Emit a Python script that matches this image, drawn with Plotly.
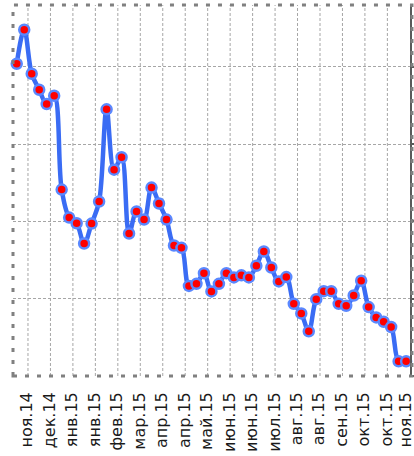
import plotly.graph_objects as go

# Weekly observations, Nov 2014 - Nov 2015
weeks = list(range(53))
values = [
    20.2, 22.4, 19.55, 18.52, 17.59, 18.13, 12.06, 10.25, 9.88, 8.57,
    9.86, 11.29, 17.25, 13.35, 14.15, 9.22, 10.64, 10.12, 12.19, 11.16,
    10.12, 8.44, 8.29, 5.83, 5.96, 6.65, 5.47, 5.96, 6.65, 6.38,
    6.51, 6.38, 7.13, 8.06, 7.02, 6.12, 6.40, 4.67, 4.05, 2.89,
    4.97, 5.49, 5.49, 4.67, 4.54, 5.21, 6.16, 4.46, 3.79, 3.51,
    3.17, 0.95, 0.95,
]

# Category labels shown every third week
tick_labels = [
    "ноя.14", "дек.14", "янв.15", "янв.15", "фев.15", "мар.15",
    "апр.15", "апр.15", "май.15", "июн.15", "июн.15", "июл.15",
    "авг.15", "авг.15", "сен.15", "окт.15", "окт.15", "ноя.15",
]
grid_positions = [1.5 + 3 * i for i in range(len(tick_labels))]
# labels sit on the category boundaries; the last one is pulled inside the page
label_positions = [p - 0.1 for p in grid_positions]
label_positions[-1] = min(label_positions[-1], 52.0)

GRID = "#a6a6a6"

fig = go.Figure()
fig.add_trace(go.Scatter(
    x=weeks,
    y=values,
    mode="lines+markers",
    line=dict(color="#3a6cf4", width=4.5, shape="spline", smoothing=1),
    marker=dict(color="#ff0000", size=10,
                line=dict(color="#5a88ff", width=2.5)),
    showlegend=False,
    cliponaxis=False,
))

# vertical category gridlines every third week
grid_shapes = [
    dict(type="line", xref="x", yref="paper", x0=p, x1=p, y0=0, y1=1,
         line=dict(color=GRID, width=1, dash="3px,2px"), layer="below")
    for p in grid_positions[:-1]
]

fig.update_layout(
    width=414,
    height=456,
    margin=dict(l=13, r=4, t=5, b=80, autoexpand=False),
    paper_bgcolor="white",
    plot_bgcolor="white",
    font=dict(family="DejaVu Sans", color="#1a1a1a"),
    xaxis=dict(
        range=[-0.5, 52.52],
        tickmode="array",
        tickvals=label_positions,
        ticktext=tick_labels,
        tickangle=-90,
        tickfont=dict(size=16, color="#1a1a1a"),
        ticks="",
        ticklabelstandoff=12,
        ticklabeloverflow="allow",
        automargin=False,
        showgrid=False,
        showline=False,
        zeroline=False,
        fixedrange=True,
    ),
    yaxis=dict(
        range=[0, 24],
        dtick=5,
        side="right",
        showticklabels=False,
        ticks="outside",
        ticklen=4,
        tickwidth=2,
        tickcolor="#5a5a5a",
        showline=True,
        linecolor="#5a5a5a",
        linewidth=2,
        showgrid=True,
        gridcolor=GRID,
        gridwidth=1,
        griddash="3px,2px",
        zeroline=False,
        automargin=False,
        fixedrange=True,
    ),
    shapes=grid_shapes + [
        dict(
            type="rect", xref="paper", yref="paper",
            x0=0, x1=1.005, y0=0, y1=1,
            line=dict(color="#808080", width=3, dash="4px,8px"),
            fillcolor="rgba(0,0,0,0)",
            layer="above",
        )
    ],
)

fig.write_html("out.html")
